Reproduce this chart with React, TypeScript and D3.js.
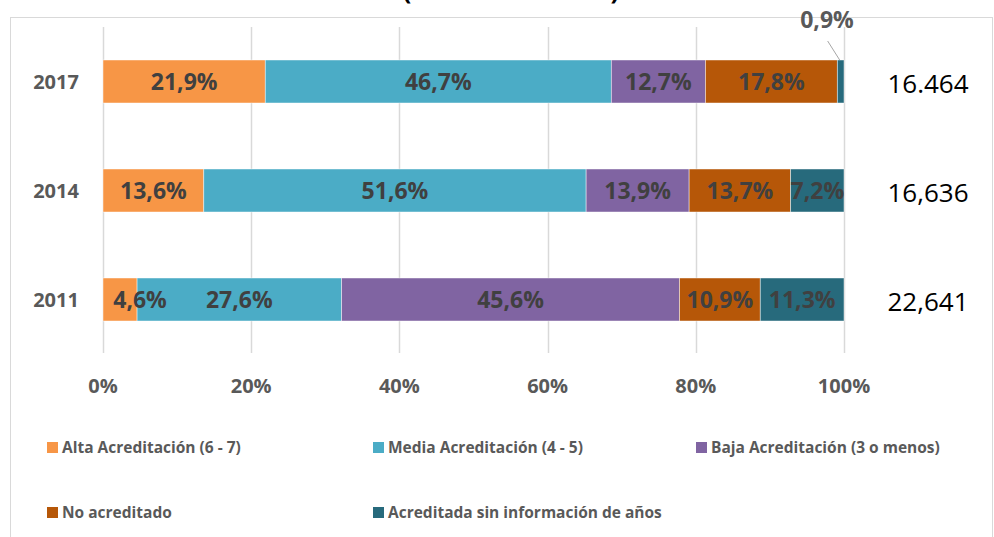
import React from "react";
import * as d3 from "d3";

const years = ["2017", "2014", "2011"];
const seriesNames = [
  "Alta Acreditación (6 - 7)",
  "Media Acreditación (4 - 5)",
  "Baja Acreditación (3 o menos)",
  "No acreditado",
  "Acreditada sin información de años",
];
const seriesColors = ["#F79646", "#4BACC6", "#8064A2", "#B65708", "#276A7C"];
const alta = [21.9, 13.6, 4.6];
const media = [46.7, 51.6, 27.6];
const baja = [12.7, 13.9, 45.6];
const noAcred = [17.8, 13.7, 10.9];
const sinInfo = [0.9, 7.2, 11.3];
const totals = ["16.464", "16,636", "22,641"];
const xTicks = [0, 20, 40, 60, 80, 100];

const W = 994;
const H = 537;
const FONT = "'Open Sans', 'Noto Sans', sans-serif";

export default function App() {
  const x = d3.scaleLinear().domain([0, 100]).range([103, 844]);
  const p = 0.6055;
  const y = d3.scaleBand<string>().domain(years).range([27, 354]).paddingInner(p).paddingOuter(p / 2);

  const seriesVals = [alta, media, baja, noAcred, sinInfo];
  const rows = years.map((yr, i) => {
    const obj: Record<string, number | string> = { year: yr };
    seriesNames.forEach((s, k) => (obj[s] = seriesVals[k][i]));
    return obj;
  });
  const stack = d3.stack<Record<string, number | string>>().keys(seriesNames)(rows as any);

  const bw = y.bandwidth();
  const fmt = (v: number) => v.toFixed(1).replace(".", ",") + "%";

  const legendCols = [47, 373, 696];
  const legendRows = [447, 512];

  return (
    <svg width={W} height={H} style={{ position: "absolute", left: 0, top: 0, background: "#fff" }}>
      <rect x={0} y={0} width={W} height={H} fill="#fff" />
      {/* outer frame */}
      <rect x={10.5} y={17.5} width={982} height={H + 20} fill="none" stroke="#D9D9D9" strokeWidth={1} />
      {/* cut-off title (only the bottom of its parentheses is visible in the reference) */}
      <text x={407} y={-1} fontFamily={FONT} fontWeight={700} fontSize={26} fill="#000" textAnchor="middle">(</text>
      <text x={615} y={-1} fontFamily={FONT} fontWeight={700} fontSize={26} fill="#000" textAnchor="middle">)</text>

      {/* gridlines */}
      {xTicks.map((t) => (
        <line key={t} x1={Math.round(x(t)) + 0.5} x2={Math.round(x(t)) + 0.5} y1={27} y2={353} stroke="#D9D9D9" strokeWidth={1.5} />
      ))}

      {/* bars */}
      {stack.map((layer, k) =>
        layer.map((d, i) => (
          <rect
            key={`${k}-${i}`}
            x={x(d[0])}
            y={y(years[i])!}
            width={x(d[1]) - x(d[0])}
            height={bw}
            fill={seriesColors[k]}
            stroke="#fff"
            strokeOpacity={0.6}
            strokeWidth={0.75}
          />
        ))
      )}

      {/* data labels */}
      {stack.map((layer, k) =>
        layer.map((d, i) => {
          const v = d[1] - d[0];
          const cy = y(years[i])! + bw / 2;
          if (v < 2) {
            const lx = x((d[0] + d[1]) / 2);
            return (
              <g key={`l-${k}-${i}`}>
                <line x1={lx - 13} y1={41} x2={lx - 1} y2={y(years[i])!} stroke="#A6A6A6" strokeWidth={1} />
                <text x={827} y={28} textAnchor="middle" fontFamily={FONT} fontWeight={700} fontSize={23} fill="#595959">
                  {fmt(v)}
                </text>
              </g>
            );
          }
          const shift = k === 0 && i === 2 ? 20 : 0;
          return (
            <text
              key={`l-${k}-${i}`}
              x={x((d[0] + d[1]) / 2) + shift}
              y={cy + 8}
              textAnchor="middle"
              fontFamily={FONT}
              fontWeight={700}
              fontSize={23}
              fill="#404040"
            >
              {fmt(v)}
            </text>
          );
        })
      )}

      {/* category labels */}
      {years.map((yr) => (
        <text key={yr} x={56} y={y(yr)! + bw / 2 + 7} textAnchor="middle" fontFamily={FONT} fontWeight={700} fontSize={20} fill="#595959">
          {yr}
        </text>
      ))}

      {/* totals */}
      {years.map((yr, i) => (
        <text key={`t-${yr}`} x={928} y={y(yr)! + bw / 2 + 11} textAnchor="middle" fontFamily={FONT} fontSize={26} fill="#000">
          {totals[i]}
        </text>
      ))}

      {/* x tick labels */}
      {xTicks.map((t) => (
        <text key={`x-${t}`} x={x(t)} y={393} textAnchor="middle" fontFamily={FONT} fontWeight={700} fontSize={20} fill="#595959">
          {t}%
        </text>
      ))}

      {/* legend */}
      {seriesNames.map((s, k) => {
        const col = legendCols[k % 3];
        const row = legendRows[Math.floor(k / 3)];
        return (
          <g key={`lg-${k}`}>
            <rect x={col} y={row - 5} width={11} height={11} fill={seriesColors[k]} />
            <text x={col + 15} y={row + 6} fontFamily={FONT} fontWeight={700} fontSize={15.5} fill="#595959">
              {s}
            </text>
          </g>
        );
      })}
    </svg>
  );
}
